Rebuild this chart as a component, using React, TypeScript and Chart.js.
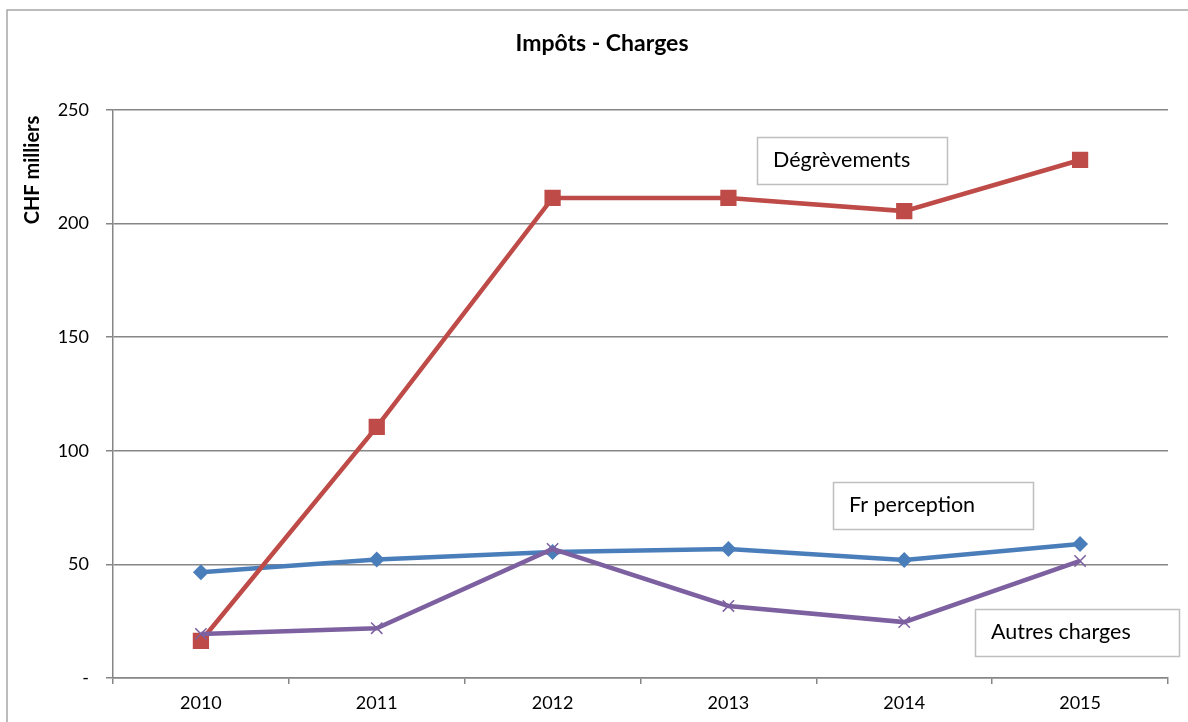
import React, { useEffect, useRef } from "react";
import { Chart, registerables } from "chart.js";

Chart.register(...registerables);

const years = ["2010", "2011", "2012", "2013", "2014", "2015"];
const frPerception = [46.5, 52.2, 55.5, 56.8, 51.9, 59.0];
const degrevements = [16.3, 110.5, 211.3, 211.3, 205.5, 228.0];
const autresCharges = [19.4, 21.9, 56.8, 31.7, 24.6, 51.5];
const yTicks = [0, 50, 100, 150, 200, 250];
const chartTitle = "Impôts - Charges";
const yTitle = "CHF milliers";
const seriesLabels = ["Fr perception", "Dégrèvements", "Autres charges"];

const FONT = "Lato, 'Liberation Sans', sans-serif";

const decorPlugin = {
  id: "decor",
  beforeDraw(chart: any) {
    const ctx = chart.ctx;
    ctx.save();
    ctx.fillStyle = "#ffffff";
    ctx.fillRect(0, 0, chart.width, chart.height);
    ctx.strokeStyle = "#a6a6a6";
    ctx.lineWidth = 1.5;
    ctx.beginPath();
    ctx.moveTo(7, chart.height + 5);
    ctx.lineTo(7, 10);
    ctx.lineTo(chart.width + 5, 10);
    ctx.stroke();
    ctx.restore();
  },
  afterDraw(chart: any) {
    const ctx = chart.ctx;
    ctx.save();
    // title
    ctx.fillStyle = "#000000";
    ctx.font = `bold 23px ${FONT}`;
    ctx.textAlign = "center";
    ctx.textBaseline = "middle";
    ctx.fillText(chartTitle, 602, 44);
    // y title
    ctx.save();
    ctx.translate(33, 170);
    ctx.rotate(-Math.PI / 2);
    ctx.font = `bold 20px ${FONT}`;
    ctx.fillText(yTitle, 0, 0);
    ctx.restore();
    // label boxes
    const boxes = [
      { text: seriesLabels[1], x: 757, y: 137, w: 190, h: 47 },
      { text: seriesLabels[0], x: 833, y: 482, w: 200, h: 47 },
      { text: seriesLabels[2], x: 975, y: 609, w: 204, h: 47 },
    ];
    ctx.font = `21.5px ${FONT}`;
    ctx.textAlign = "left";
    for (const b of boxes) {
      ctx.fillStyle = "#ffffff";
      ctx.fillRect(b.x, b.y, b.w, b.h);
      ctx.strokeStyle = "#bfbfbf";
      ctx.lineWidth = 1.5;
      ctx.strokeRect(b.x + 0.5, b.y + 0.5, b.w, b.h);
      ctx.fillStyle = "#000000";
      ctx.fillText(b.text, b.x + 16, b.y + b.h / 2);
    }
    ctx.restore();
  },
};

export default function App() {
  const ref = useRef<HTMLCanvasElement | null>(null);
  useEffect(() => {
    if (!ref.current) return;
    const chart = new Chart(ref.current, {
      type: "line",
      data: {
        labels: years,
        datasets: [
          {
            label: seriesLabels[0],
            data: frPerception,
            borderColor: "#4a7ebb",
            backgroundColor: "#4a7ebb",
            borderWidth: 4.5,
            pointStyle: "rectRot",
            pointRadius: 8,
            pointBorderWidth: 0,
            order: 3,
          },
          {
            label: seriesLabels[1],
            data: degrevements,
            borderColor: "#be4b48",
            backgroundColor: "#be4b48",
            borderWidth: 4.5,
            pointStyle: "rect",
            pointRadius: 11.5,
            pointBorderWidth: 0,
            order: 2,
          },
          {
            label: seriesLabels[2],
            data: autresCharges,
            borderColor: "#7d60a0",
            backgroundColor: "#7d60a0",
            borderWidth: 4.5,
            pointStyle: "crossRot",
            pointRadius: 8,
            pointBorderWidth: 1.5,
            pointBorderColor: "#7d60a0",
            order: 1,
          },
        ],
      },
      options: {
        responsive: false,
        animation: false,
        layout: { padding: { top: 110, right: 20, left: 0, bottom: 0 } },
        plugins: {
          legend: { display: false },
          title: { display: false },
          tooltip: { enabled: false },
        },
        scales: {
          x: {
            offset: true,
            grid: {
              offset: true,
              drawOnChartArea: false,
              drawTicks: true,
              tickLength: 6,
              color: "#868686",
              lineWidth: 1.5,
            },
            border: { color: "#868686", width: 1.5 },
            ticks: {
              color: "#000000",
              font: { family: FONT, size: 18 },
              padding: 8,
              maxRotation: 0,
            },
            afterFit(scale: any) {
              scale.height = 44;
            },
          },
          y: {
            min: 0,
            max: 250,
            afterBuildTicks(scale: any) {
              scale.ticks = yTicks.map((v) => ({ value: v }));
            },
            grid: {
              color: "#868686",
              lineWidth: 1.5,
              drawTicks: true,
              tickLength: 7,
            },
            border: { color: "#868686", width: 1.5 },
            ticks: {
              color: "#000000",
              font: { family: FONT, size: 18 },
              padding: 17,
              callback: (v: any) => (Number(v) === 0 ? "-" : String(v)),
            },
            afterFit(scale: any) {
              scale.width = 113;
            },
          },
        },
      },
      plugins: [decorPlugin],
    });
    return () => chart.destroy();
  }, []);
  return (
    <div style={{ position: "absolute", left: 0, top: 0, width: 1188, height: 722 }}>
      <canvas ref={ref} width={1188} height={722} style={{ display: "block" }} />
    </div>
  );
}
